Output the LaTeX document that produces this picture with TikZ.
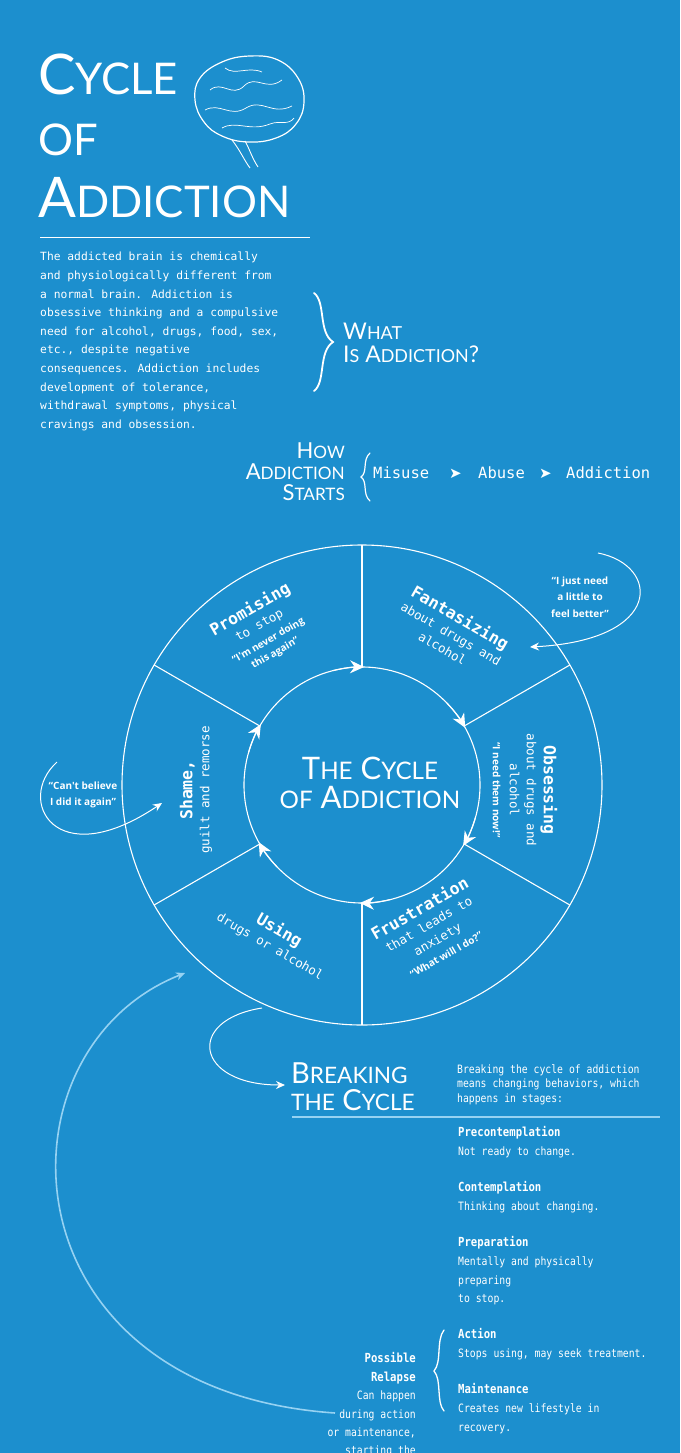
\documentclass[tikz,border=0pt]{standalone}
\usepackage{fontspec}
\usepackage{graphicx}
\usetikzlibrary{arrows.meta,calc}
\newfontfamily\mono{DejaVu Sans Mono}
\newfontfamily\monoc{DejaVu Sans Mono}[FakeStretch=0.85]
\newfontfamily\ttl{Lato}
\newfontfamily\qf{Open Sans}
\newfontfamily\sym{DejaVu Sans}
\newcommand\smc[1]{\scalebox{0.78}{#1}}
\newcommand\hd[1]{{\bfseries\fontsize{16.5}{17}\selectfont #1}}
\newcommand\qt[1]{{\qf\bfseries\fontsize{10}{12}\selectfont #1}}
\definecolor{bg}{RGB}{28,143,206}
\definecolor{lb}{RGB}{150,210,242}
\tikzset{
  txt/.style={text=white,inner sep=0pt},
  ln/.style={draw=white,line width=1.1pt},
  brc/.style={draw=white,line width=1.8pt,line cap=round},
  arr/.style={draw=white,line width=1.1pt,-{Stealth[length=14pt,width=13pt]}},
  sarr/.style={draw=white,line width=1pt,-{Stealth[length=9pt,width=8pt]}},
  sect/.style={txt,align=center,font=\mono\fontsize{12.5}{17}\selectfont},
  quo/.style={txt,align=center,font=\qf\bfseries\fontsize{10}{16.5}\selectfont},
}
\begin{document}
\begin{tikzpicture}[x=1pt,y=1pt]
\fill[bg] (0,0) rectangle (680,-1453);
\useasboundingbox (0,0) rectangle (680,-1453);
% Title
\node[txt,anchor=base west,font=\ttl\fontsize{56}{56}\selectfont] (t1) at (38,-95) {C\smc{YCLE}};
\node[txt,anchor=base west,font=\ttl\fontsize{56}{56}\selectfont] (t2) at (38,-156) {\smc{OF}};
\node[txt,anchor=base west,font=\ttl\fontsize{56}{56}\selectfont] (t3) at (38,-217) {A\smc{DDICTION}};
\draw[draw=white,line width=0.6pt] (40,-237) -- (310,-237);
% brain
\draw[white,line width=1.2pt] plot[smooth cycle,tension=0.7] coordinates {(195,-100) (200,-78) (222,-62) (250,-56) (278,-60) (298,-78) (304,-102) (296,-124) (276,-138) (248,-142) (222,-136) (204,-122)};
\draw[white,line width=0.9pt] (245,-141) .. controls (250,-150) and (252,-158) .. (258,-167);
\draw[white,line width=0.9pt] (232,-140) .. controls (240,-150) and (244,-160) .. (250,-168);
\draw[white,line width=0.7pt] (210,-90) .. controls (222,-80) and (232,-98) .. (244,-86) .. controls (256,-74) and (266,-92) .. (282,-80);
\draw[white,line width=0.7pt] (205,-110) .. controls (220,-102) and (230,-118) .. (246,-108) .. controls (262,-98) and (272,-116) .. (292,-106);
\draw[white,line width=0.7pt] (225,-68) .. controls (235,-76) and (248,-66) .. (262,-72);
\draw[white,line width=0.7pt] (222,-128) .. controls (236,-120) and (250,-132) .. (270,-124) .. controls (280,-120) and (288,-126) .. (294,-118);
% paragraph
\node[txt,anchor=north west,align=left,font=\mono\fontsize{11.3}{18.6}\selectfont] (para) at (40,-252) {The addicted brain is chemically\\and physiologically different from\\a normal brain. Addiction is\\obsessive thinking and a compulsive\\need for alcohol, drugs, food, sex,\\etc., despite negative\\consequences. Addiction includes\\development of tolerance,\\withdrawal symptoms, physical\\cravings and obsession.};
\draw[brc] (314,-293) .. controls (326,-302) and (318,-332) .. (333,-342) .. controls (318,-352) and (326,-382) .. (314,-391);
\node[txt,anchor=base west,font=\ttl\fontsize{23}{24}\selectfont] (what) at (343,-339) {W\smc{HAT}};
\node[txt,anchor=base west,font=\ttl\fontsize{23}{24}\selectfont] (what2) at (343,-362) {I\smc{S} A\smc{DDICTION}?};
% how
\node[txt,anchor=base east,font=\ttl\fontsize{22}{24}\selectfont] (h1) at (345,-458) {H\smc{OW}};
\node[txt,anchor=base east,font=\ttl\fontsize{22}{24}\selectfont] (h2) at (345,-479) {A\smc{DDICTION}};
\node[txt,anchor=base east,font=\ttl\fontsize{22}{24}\selectfont] (h3) at (345,-500) {S\smc{TARTS}};
\draw[brc,line width=1.2pt] (370,-453) .. controls (362,-460) and (368,-472) .. (361,-477) .. controls (368,-482) and (362,-494) .. (370,-501);
\node[txt,anchor=base west,font=\mono\fontsize{15.5}{16}\selectfont] (mis) at (373,-478) {Misuse};
\node[txt,anchor=base west,font=\sym\fontsize{15}{16}\selectfont] (a1) at (449,-478) {➤};
\node[txt,anchor=base west,font=\mono\fontsize{15.5}{16}\selectfont] (abu) at (478,-478) {Abuse};
\node[txt,anchor=base west,font=\sym\fontsize{15}{16}\selectfont] (a2) at (539,-478) {➤};
\node[txt,anchor=base west,font=\mono\fontsize{15.5}{16}\selectfont] (add) at (566,-478) {Addiction};
% circle
\coordinate (C) at (362,-785);
\draw[ln] (C) circle[radius=240];
\draw[ln] (C) circle[radius=118];
\foreach \a in {90,30,-30,-90,-150,150}{
  \draw[ln] ($(C)+(\a:118)$) -- ($(C)+(\a:240)$);
  \draw[arr] ($(C)+(\a+14:118)$) arc[start angle=\a+14,end angle=\a-1,radius=118];
}
\node[txt,align=center,font=\ttl\fontsize{31}{29}\selectfont] (ctr) at (370,-783) {T\smc{HE} C\smc{YCLE}\\\smc{OF} A\smc{DDICTION}};
% sectors
\node[sect,rotate=30] (prom) at (262,-630) {\hd{Promising}\\to stop\\\qt{“I'm never doing}\\[-3pt]\qt{this again”}};
\node[sect,rotate=-30] (fant) at (452,-632) {\hd{Fantasizing}\\about drugs and\\alcohol};
\node[sect,rotate=-90] (obs) at (525,-790) {\hd{Obsessing}\\about drugs and\\alcohol\\\qt{“I need them now!”}};
\node[sect,rotate=30] (fru) at (432,-930) {\hd{Frustration}\\that leads to\\anxiety\\\qt{“What will I do?”}};
\node[sect,rotate=-30] (use) at (275,-938) {\hd{Using}\\drugs or alcohol};
\node[sect,rotate=90] (sha) at (196,-790) {\hd{Shame,}\\guilt and remorse};
% quotes
\node[quo] (q1) at (580,-597) {“I just need\\a little to\\feel better”};
\coordinate (q1s) at (598,-553);
\coordinate (q1e) at (530,-647);
\draw[sarr] (q1s) .. controls (660,-565) and (665,-640) .. (q1e);
\node[quo] (q2) at (83,-795) {“Can't believe\\I did it again”};
\coordinate (q2s) at (57,-762);
\coordinate (q2e) at (162,-803);
\draw[sarr] (q2s) .. controls (15,-800) and (55,-875) .. (q2e);
% relapse arc
\coordinate (rs) at (335,-1413);
\coordinate (re) at (185,-973);
\draw[sarr,draw=lb,line width=1.6pt] (rs) .. controls (0,-1390) and (-10,-1050) .. (re);
% breaking
\coordinate (bs) at (262,-1008);
\coordinate (be) at (285,-1085);
\draw[sarr] (bs) .. controls (185,-1020) and (195,-1085) .. (be);
\node[txt,anchor=base west,font=\ttl\fontsize{29}{28}\selectfont] (bk1) at (291,-1083) {B\smc{REAKING}};
\node[txt,anchor=base west,font=\ttl\fontsize{29}{28}\selectfont] (bk2) at (291,-1110) {\smc{THE} C\smc{YCLE}};
\node[txt,anchor=north west,align=left,font=\monoc\fontsize{11.5}{14.5}\selectfont] (bp) at (457,-1064) {Breaking the cycle of addiction\\means changing behaviors, which\\happens in stages:};
\draw[draw=lb,line width=1.2pt] (292,-1117) -- (660,-1117);
\tikzset{st/.style={txt,anchor=base west,font=\monoc\bfseries\fontsize{12.5}{12}\selectfont},
 sd/.style={txt,anchor=base west,font=\monoc\fontsize{11.5}{12}\selectfont}}
\node[st] (s1) at (458,-1136) {Precontemplation};
\node[sd] (d1) at (458,-1155) {Not ready to change.};
\node[st] (s2) at (458,-1191) {Contemplation};
\node[sd] (d2) at (458,-1210) {Thinking about changing.};
\node[st] (s3) at (458,-1246) {Preparation};
\node[sd] (d3) at (458,-1265) {Mentally and physically};
\node[sd] (d3b) at (458,-1284) {preparing};
\node[sd] (d3c) at (458,-1302) {to stop.};
\node[st] (s4) at (458,-1338) {Action};
\node[sd] (d4) at (458,-1357) {Stops using, may seek treatment.};
\node[st] (s5) at (458,-1393) {Maintenance};
\node[sd] (d5) at (458,-1412) {Creates new lifestyle in};
\node[sd] (d5b) at (458,-1431) {recovery.};
\draw[brc,line width=1.3pt] (444,-1330) .. controls (436,-1340) and (442,-1362) .. (434,-1371) .. controls (442,-1380) and (436,-1402) .. (444,-1411);
\node[st,anchor=base east] (p1) at (416,-1362) {Possible};
\node[st,anchor=base east] (p2) at (416,-1381) {Relapse};
\node[sd,anchor=base east] (p3) at (416,-1399) {Can happen};
\node[sd,anchor=base east] (p4) at (416,-1418) {during action};
\node[sd,anchor=base east] (p5) at (416,-1436) {or maintenance,};
\node[sd,anchor=base east] (p6) at (416,-1454) {starting the};
\end{tikzpicture}
\end{document}
